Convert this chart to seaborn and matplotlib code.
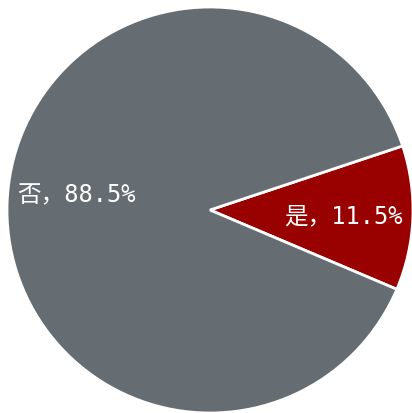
import matplotlib.pyplot as plt
import seaborn as sns

# 数据
categories = ['是', '否']
shares = [11.5, 88.5]
colors = ['#990000', '#666d72']

sns.set_theme(style='white')
plt.rcParams['font.family'] = ['DejaVu Sans Mono', 'Noto Sans CJK SC', 'DejaVu Sans']

fig = plt.figure(figsize=(4.12, 4.14), dpi=100)
ax = fig.add_axes([7 / 412, 0, 406 / 412, 406 / 414])

labels = [f'{c}，{v}%' for c, v in zip(categories, shares)]
wedges, texts = ax.pie(shares,
                       labels=labels,
                       colors=colors,
                       startangle=-23,
                       labeldistance=0.66,
                       radius=1,
                       wedgeprops=dict(edgecolor='white', linewidth=2),
                       textprops=dict(color='white', fontsize=17, ha='center', va='center'))
# 否 的标签稍微上移
x, y = texts[1].get_position()
texts[1].set_position((x, y + 0.05))

ax.set_xlim(-1, 1)
ax.set_ylim(-1, 1)
ax.set_aspect('equal')
ax.axis('off')

plt.savefig('out.png', dpi=100)
